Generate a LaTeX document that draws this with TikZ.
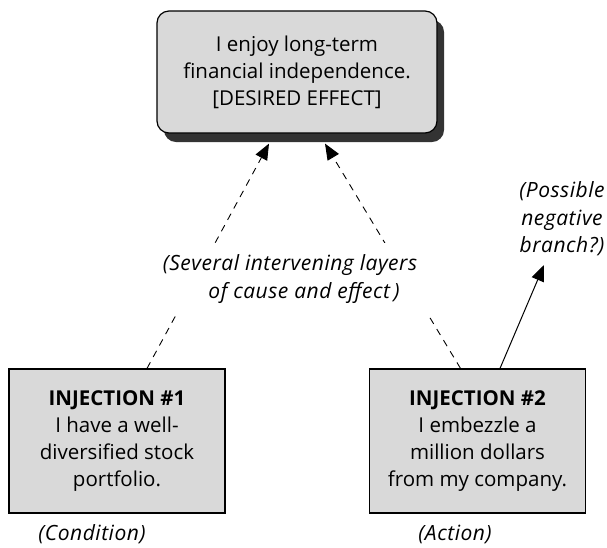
\documentclass[tikz,border=0pt]{standalone}
\usepackage{fontspec}
\setmainfont{Open Sans}
\usetikzlibrary{arrows.meta,shadows}
\definecolor{boxgray}{HTML}{D9D9D9}
\definecolor{shade}{HTML}{333333}
\tikzset{
  txt/.style={font=\fontsize{20.5}{27}\selectfont, align=center},
  effectbox/.style={txt, draw=black, line width=1.2pt, fill=boxgray,
    rounded corners=12pt, minimum width=280pt, minimum height=122pt, inner sep=0pt,
    general shadow={shadow xshift=7pt, shadow yshift=-9pt, fill=shade}},
  injbox/.style={txt, draw=black, line width=1.2pt, fill=boxgray,
    minimum width=216pt, minimum height=144pt, inner sep=0pt},
  note/.style={font=\fontsize{21}{27.5}\selectfont\itshape\addfontfeature{LetterSpace=2.5},
    align=center},
  causal/.style={line width=0.9pt, dash pattern=on 7pt off 6pt,
    -{Triangle[length=16pt,width=13pt]}},
  branch/.style={line width=1pt, -{Triangle[length=16pt,width=13pt]}},
}
\begin{document}
\begin{tikzpicture}[x=1pt,y=-1pt]
\useasboundingbox (0,0) rectangle (607,547);

\node[effectbox] (effect) at (297,72)
  {I enjoy long-term\\financial independence.\\{[DESIRED EFFECT]}};
\node[injbox] (inj1) at (117,441)
  {\textbf{INJECTION \#1}\\I have a well-\\diversified stock\\portfolio.};
\node[injbox] (inj2) at (477.5,441)
  {\textbf{INJECTION \#2}\\I embezzle a\\million dollars\\from my company.};

\node[note] (cond) at (92,534) {(Condition)};
\node[note] (act) at (455,534) {(Action)};
\node[note] (neg) at (562,219) {(Possible\\negative\\branch?)};
\coordinate (negtip) at (544,265);

% dashed chains of cause and effect into the desired effect
\draw[causal] ([xshift=30pt]inj1.north) -- ([xshift=-28pt,yshift=-10pt]effect.south);
\draw[causal] ([xshift=-17pt]inj2.north) -- ([xshift=28pt,yshift=-10pt]effect.south);
\draw[branch] ([xshift=22.5pt]inj2.north) -- (negtip);

% the label sits over the middle of the dashed lines
\node[note, fill=white, inner sep=12pt] (layers) at (290,279)
  {(Several intervening layers\\\hspace*{28pt}of cause and effect\,)};
\end{tikzpicture}
\end{document}
